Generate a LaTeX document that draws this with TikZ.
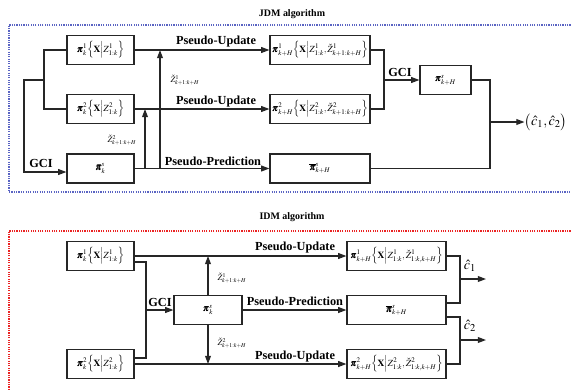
\documentclass[tikz,border=0pt]{standalone}
\usepackage{amsmath}
\usepackage{mathptmx}
\usepackage{bm}
\usepackage[no-math]{fontspec}
\setmainfont{Liberation Serif}
\usetikzlibrary{arrows.meta}
\definecolor{jdmblue}{RGB}{90,100,195}
\definecolor{idmred}{RGB}{235,35,35}
\newcommand{\cnd}[1]{\Bigl\{\mathbf{X}\Big|#1\Bigr\}}
\tikzset{
    blk/.style={draw=black!85, line width=1pt, minimum height=0.87cm, inner sep=1pt, font=\footnotesize},
    lbl/.style={font=\bfseries\fontsize{10.5}{12}\selectfont, inner sep=0pt},
    ttl/.style={font=\bfseries\fontsize{8.5}{10}\selectfont, inner sep=0pt},
    sml/.style={font=\scriptsize, inner sep=0pt},
    ln/.style={draw=black!85, line width=1pt},
    arr/.style={ln, -{Triangle[length=7pt,width=5pt]}},
    frm/.style={line width=1pt, dash pattern=on 1pt off 1pt}
}
\begin{document}
\begin{tikzpicture}[x=0.03cm, y=-0.03cm]
                \useasboundingbox (0,0) rectangle (571,389);
                \draw[frm, jdmblue] (580,25) -- (9,25) -- (9,192) -- (580,192);
                \draw[frm, idmred] (580,231) -- (9,231) -- (9,395);
                \node[ttl] (30) at (292,14) {JDM algorithm};
                \node[ttl] (31) at (292,217) {IDM algorithm};

                \node[blk, minimum width=2.01cm] (1) at (100.5,50) {$\bm{\pi}_k^1\cnd{Z^1_{1:k}}$};
                \node[blk, minimum width=2.01cm] (2) at (100.5,109) {$\bm{\pi}_k^2\cnd{Z^2_{1:k}}$};
                \node[blk, minimum width=2.01cm] (3) at (100.5,168.5) {$\bm{\pi}_k^s$};
                \node[blk, minimum width=3cm] (4) at (320,50) {$\bm{\pi}_{k+H}^1\cnd{Z^1_{1:k},\check{Z}^1_{k+1:k+H}}$};
                \node[blk, minimum width=3cm] (5) at (320,109) {$\bm{\pi}_{k+H}^2\cnd{Z^2_{1:k},\check{Z}^2_{k+1:k+H}}$};
                \node[blk, minimum width=3cm] (6) at (320,168.5) {$\overline{\bm{\pi}}_{k+H}^s$};
                \node[blk, minimum width=1.53cm] (7) at (445.5,80) {$\bm{\pi}_{k+H}^s$};
                \node[inner sep=0pt, font=\large] (8) at (546,122) {$\bigl(\hat{c}_1,\hat{c}_2\bigr)$};

                \coordinate (20) at (44,80);
                \coordinate (21) at (24,80);
                \coordinate (22) at (24,172);
                \coordinate (23) at (160,168.5);
                \coordinate (24) at (145,168.5);
                \coordinate (25) at (384,80);
                \coordinate (26) at (490,122);

                \draw[ln] (1.west) -| (20) |- (2.west);
                \draw[arr] (20) to (21) to (22) to (22 -| 3.west);
                \draw[arr] (1.east) to (4.west);
                \draw[arr] (2.east) to (5.west);
                \draw[arr] (3.east) to (6.west);
                \draw[arr] (23) to (23 |- 1.east);
                \draw[arr] (24) to (24 |- 2.east);
                \draw[ln] (4.east) -| (25) |- (5.east);
                \draw[arr] (25) to (7.west);
                \draw[ln] (7.east) -| (26) |- (6.east);
                \draw[arr] (26) to (8.west);

                \node[lbl] (32) at (216,42) {Pseudo-Update};
                \node[lbl] (33) at (216,102) {Pseudo-Update};
                \node[lbl] (34) at (213,161) {Pseudo-Prediction};
                \node[lbl] (35) at (41,163) {GCI};
                \node[lbl] (36) at (400,72) {GCI};
                \node[sml] (37) at (185,80) {$\check{Z}^1_{k+1:k+H}$};
                \node[sml] (38) at (122,140) {$\check{Z}^2_{k+1:k+H}$};

                \node[blk, minimum width=2.01cm] (10) at (100.5,256) {$\bm{\pi}_k^1\cnd{Z^1_{1:k}}$};
                \node[blk, minimum width=2.01cm] (11) at (100.5,364) {$\bm{\pi}_k^2\cnd{Z^2_{1:k}}$};
                \node[blk, minimum width=2.04cm] (12) at (208,310) {$\bm{\pi}_k^s$};
                \node[blk, minimum width=2.97cm] (13) at (396.5,256) {$\bm{\pi}_{k+H}^1\cnd{Z^1_{1:k},\check{Z}^1_{1:k,k+H}}$};
                \node[blk, minimum width=2.97cm] (14) at (396.5,310) {$\overline{\bm{\pi}}_{k+H}^s$};
                \node[blk, minimum width=2.97cm] (15) at (396.5,364) {$\bm{\pi}_{k+H}^2\cnd{Z^2_{1:k},\check{Z}^2_{1:k,k+H}}$};

                \coordinate (40) at (146,310);
                \coordinate (41) at (460,279);
                \coordinate (42) at (460,340);
                \coordinate (43) at (486,279);
                \coordinate (44) at (486,340);

                \draw[ln] (10.-10) -| (40) |- (11.10);
                \draw[arr] (40) to (12.west);
                \draw[arr] (10.east) to (13.west);
                \draw[arr] (12.east) to (14.west);
                \draw[arr] (11.east) to (15.west);
                \draw[arr] (12.north) to (12.north |- 10.east);
                \draw[arr] (12.south) to (12.south |- 11.east);
                \draw[ln] (13.east) -| (41) |- (14.8);
                \draw[ln] (14.-8) -| (42) |- (15.east);
                \draw[arr] (41) to (43);
                \draw[arr] (42) to (44);

                \node[lbl] (50) at (295,248) {Pseudo-Update};
                \node[lbl] (51) at (295,301) {Pseudo-Prediction};
                \node[lbl] (52) at (295,357) {Pseudo-Update};
                \node[lbl] (53) at (160,302) {GCI};
                \node[sml] (54) at (232,278) {$\check{Z}^1_{k+1:k+H}$};
                \node[sml] (55) at (232,343) {$\check{Z}^2_{k+1:k+H}$};
                \node[inner sep=0pt, font=\large] (56) at (470,266) {$\hat{c}_1$};
                \node[inner sep=0pt, font=\large] (57) at (470,326) {$\hat{c}_2$};
    \end{tikzpicture}
\end{document}
